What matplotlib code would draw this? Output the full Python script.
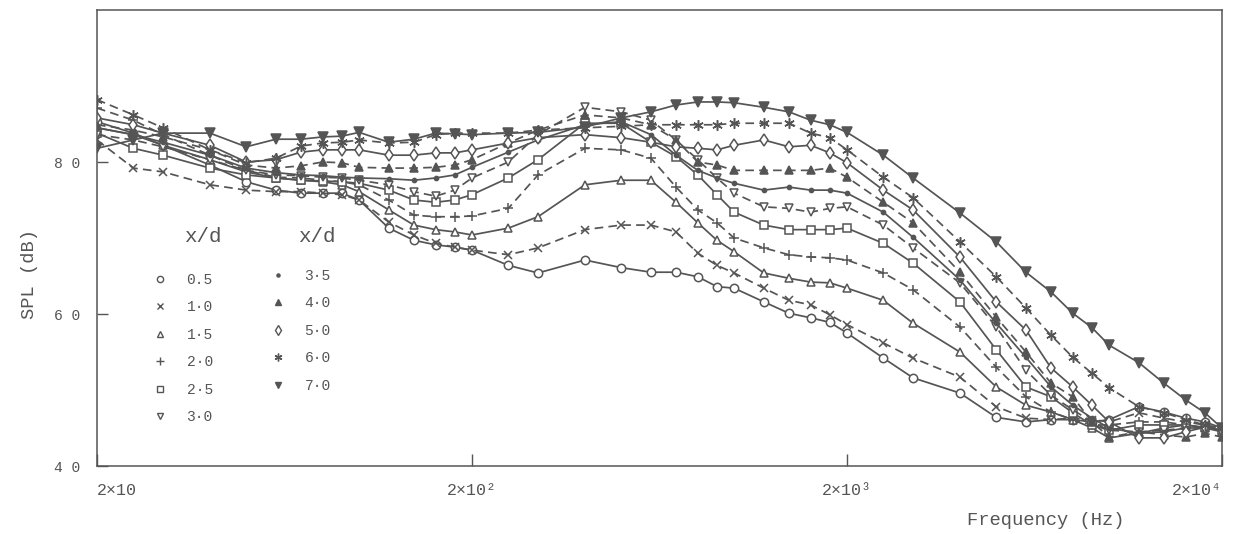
import matplotlib.pyplot as plt
from matplotlib.lines import Line2D
from matplotlib.ticker import NullLocator

plt.rcParams['font.family'] = ['Liberation Mono', 'DejaVu Sans Mono']

# measured spectra, one list per axial station x/d
freq = [20, 25, 30, 40, 50, 60, 70, 80, 90, 100, 120, 140, 160, 180, 200,
        250, 300, 400, 500, 600, 700, 800, 900, 1000, 1200, 1400, 1600,
        1800, 2000, 2500, 3000, 4000, 5000, 6000, 7000, 8000, 9000, 10000,
        12000, 14000, 16000, 18000, 20000]

spl_05 = [85.3, 83.8, 82.2, 79.6, 77.4, 76.3, 75.9, 75.9, 75.9, 75.0, 71.3, 69.7, 69.1, 68.8, 68.4,
          66.4, 65.4, 67.1, 66.1, 65.5, 65.5, 64.9, 63.6, 63.4, 61.6, 60.1, 59.5, 58.9, 57.5,
          54.2, 51.6, 49.6, 46.4, 45.8, 46.1, 46.1, 45.8, 46.1, 47.8, 47.1, 46.3, 45.8, 45.0]
spl_10 = [82.9, 79.2, 78.7, 77.0, 76.3, 76.1, 76.1, 75.9, 75.7, 75.0, 72.1, 70.4, 69.3, 68.8, 68.4,
          67.8, 68.7, 71.1, 71.7, 71.7, 70.8, 68.0, 66.4, 65.4, 63.4, 61.8, 61.2, 59.9, 58.6,
          56.2, 54.2, 51.7, 47.8, 46.3, 46.1, 46.3, 46.1, 45.8, 47.0, 46.3, 45.8, 45.4, 44.7]
spl_15 = [84.5, 83.6, 82.2, 80.3, 78.7, 77.9, 77.6, 77.4, 77.0, 76.1, 73.7, 71.7, 71.1, 70.8, 70.4,
          71.3, 72.8, 77.0, 77.6, 77.6, 74.7, 72.0, 69.7, 68.2, 65.4, 64.7, 64.2, 64.1, 63.4,
          61.8, 58.8, 55.0, 50.4, 48.0, 47.1, 46.1, 45.0, 43.7, 44.3, 45.0, 45.4, 45.0, 44.5]
spl_20 = [87.1, 85.5, 83.6, 80.9, 78.9, 78.0, 77.9, 77.6, 77.4, 77.0, 75.0, 73.0, 72.8, 72.8, 72.9,
          73.9, 78.3, 81.8, 81.6, 80.5, 76.7, 73.7, 72.0, 70.0, 68.7, 67.8, 67.5, 67.4, 67.1,
          65.4, 63.2, 58.3, 53.0, 49.1, 47.1, 46.1, 45.4, 45.4, 45.8, 45.8, 45.4, 45.0, 44.7]
spl_25 = [83.8, 81.8, 80.9, 79.2, 78.3, 77.9, 77.6, 77.5, 77.4, 77.2, 76.3, 75.0, 74.7, 75.0, 75.7,
          77.9, 80.3, 85.1, 85.1, 82.6, 80.7, 78.3, 75.7, 73.4, 71.7, 71.1, 71.1, 71.1, 71.3,
          69.3, 66.7, 61.6, 55.3, 50.4, 49.1, 47.0, 45.4, 44.7, 45.4, 45.4, 45.4, 45.1, 44.7]
spl_30 = [83.6, 82.9, 82.0, 80.3, 78.9, 78.3, 78.2, 78.0, 77.9, 77.6, 77.0, 76.1, 75.5, 76.3, 77.9,
          80.0, 83.6, 87.2, 86.6, 85.5, 82.9, 80.3, 77.9, 75.9, 74.1, 73.9, 73.4, 73.9, 74.1,
          71.7, 68.7, 64.1, 58.3, 52.6, 49.3, 47.4, 45.8, 44.7, 44.5, 44.7, 45.0, 45.1, 44.7]
spl_35 = [84.5, 83.6, 82.6, 80.9, 79.2, 78.6, 78.3, 78.2, 78.0, 77.9, 77.8, 77.6, 77.9, 78.3, 79.3,
          81.3, 82.9, 84.9, 85.3, 83.6, 80.9, 78.9, 77.9, 77.2, 76.3, 76.7, 76.3, 76.3, 75.9,
          73.4, 70.1, 64.5, 58.8, 54.3, 50.4, 48.0, 46.3, 45.0, 44.3, 44.5, 45.0, 45.0, 44.7]
spl_40 = [84.9, 84.2, 83.3, 81.6, 79.6, 79.2, 79.5, 80.0, 79.9, 79.3, 79.2, 79.2, 79.3, 79.6, 80.3,
          82.5, 84.2, 86.2, 85.8, 84.9, 82.9, 80.0, 79.6, 78.9, 78.9, 78.9, 78.9, 79.2, 78.0,
          74.7, 72.0, 65.5, 59.6, 55.0, 50.9, 49.1, 45.8, 43.8, 44.5, 44.1, 43.8, 44.3, 43.8]
spl_50 = [85.8, 84.9, 83.8, 82.2, 80.0, 80.3, 81.3, 81.6, 81.6, 81.6, 80.9, 80.9, 81.2, 81.2, 81.6,
          82.5, 83.2, 83.6, 83.2, 82.6, 82.0, 81.8, 81.6, 82.2, 82.9, 82.0, 82.2, 81.2, 79.9,
          76.3, 73.7, 67.5, 61.6, 57.9, 52.9, 50.4, 48.0, 45.8, 43.7, 43.7, 44.5, 45.1, 44.7]
spl_60 = [88.2, 86.2, 84.5, 81.6, 79.9, 80.5, 82.1, 82.5, 82.6, 82.9, 82.5, 82.6, 83.6, 83.8, 83.8,
          83.8, 84.2, 84.5, 84.7, 84.9, 84.9, 84.9, 84.9, 85.1, 85.1, 85.1, 83.8, 83.2, 81.6,
          78.0, 75.3, 69.5, 64.9, 60.8, 57.2, 54.3, 52.2, 50.3, 47.8, 47.0, 46.1, 45.4, 45.0]
spl_70 = [81.8, 82.9, 83.8, 83.8, 82.0, 83.0, 83.0, 83.3, 83.4, 83.9, 82.6, 83.0, 83.8, 83.7, 83.6,
          83.8, 83.9, 84.6, 85.8, 86.6, 87.5, 87.9, 87.9, 87.8, 87.2, 86.6, 85.5, 84.9, 83.9,
          80.9, 77.9, 73.3, 69.5, 65.5, 62.9, 60.1, 58.2, 55.9, 53.6, 50.9, 48.7, 47.0, 45.0]

xd_labels = ['0.5', '1·0', '1·5', '2·0', '2·5', '3·0',
             '3·5', '4·0', '5·0', '6·0', '7·0']
xtick_vals = [20, 200, 2000, 20000]
xtick_text = ['2×10', '2×10²', '2×10³', '2×10⁴']
ytick_vals = [40, 60, 80]
ytick_text = ['4 0', '6 0', '8 0']

ink = '#555555'
dash = (0, (5, 3))

# marker, fill, line style, size for each x/d
styles = [
    ('o', 'white', '-', 6),
    ('x', ink, dash, 6),
    ('^', 'white', '-', 6),
    ('+', ink, dash, 7.5),
    ('s', 'white', '-', 5.5),
    ('v', 'white', dash, 6),
    ('.', ink, '-', 6),
    ('^', ink, dash, 6),
    ('d', 'white', '-', 6.5),
    ((6, 2, 0), ink, dash, 7.5),
    ('v', ink, '-', 6.5),
]

series = [spl_05, spl_10, spl_15, spl_20, spl_25, spl_30,
          spl_35, spl_40, spl_50, spl_60, spl_70]

fig = plt.figure(figsize=(12.48, 5.34), dpi=100)
ax = fig.add_axes([97 / 1248, 1 - 466 / 534, 1125 / 1248, 456 / 534])

handles = []
for vals, (mk, fc, ls, ms), lab in zip(series, styles, xd_labels):
    ax.plot(freq, vals, color=ink, lw=1.25, ls=ls, marker=mk, ms=ms,
            mfc=fc, mec=ink, mew=1.1)
    handles.append(Line2D([], [], ls='none', marker=mk, ms=ms * 0.75,
                          mfc=fc, mec=ink, mew=1.0, label=lab))

ax.set_xscale('log')
ax.set_xlim(20, 20000)
ax.set_ylim(40, 100)
ax.set_xticks(xtick_vals)
ax.set_xticklabels(xtick_text)
ax.xaxis.set_minor_locator(NullLocator())
ax.set_yticks(ytick_vals)
ax.set_yticklabels(ytick_text)
ax.tick_params(axis='x', direction='in', length=9, width=1, pad=12,
               labelsize=12, colors=ink)
ax.tick_params(axis='y', direction='in', length=8, width=1, pad=12,
               labelsize=10.5, colors=ink)
labs = ax.get_xticklabels()
labs[0].set_ha('left')
labs[-1].set_ha('right')

for sp in ax.spines.values():
    sp.set_color(ink)
    sp.set_linewidth(1.1)

ax.set_xlabel('Frequency (Hz)', fontsize=13.5, color=ink)
ax.xaxis.set_label_coords(0.843, -0.10)
ax.set_ylabel('SPL (dB)', fontsize=13.5, color=ink)
ax.yaxis.set_label_coords(-0.052, 0.42)

# two legend columns, each headed by x/d
leg_kw = dict(loc='upper left', bbox_transform=fig.transFigure, frameon=False,
              fontsize=10.5, handlelength=1.0, handletextpad=1.3,
              labelspacing=0.92, borderpad=0, borderaxespad=0, labelcolor=ink)
leg1 = ax.legend(handles=handles[:6], bbox_to_anchor=(153 / 1248, 1 - 273 / 534), **leg_kw)
ax.add_artist(leg1)
ax.legend(handles=handles[6:], bbox_to_anchor=(271 / 1248, 1 - 269 / 534), **leg_kw)
fig.text(203 / 1248, 1 - 237 / 534, 'x/d', ha='center', va='center', fontsize=15, color=ink)
fig.text(317 / 1248, 1 - 237 / 534, 'x/d', ha='center', va='center', fontsize=15, color=ink)

fig.savefig('out.png', dpi=100)
